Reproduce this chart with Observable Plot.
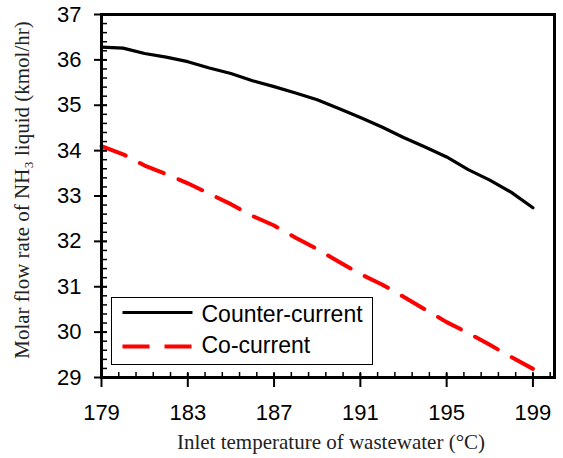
<!DOCTYPE html>
<html><head><meta charset="utf-8">
<script src="https://cdn.jsdelivr.net/npm/d3@7"></script>
<script src="https://cdn.jsdelivr.net/npm/@observablehq/plot@0.6"></script>
<style>
body{margin:0;background:#fff;}
#wrap{position:relative;width:563px;height:458px;}
#legend{position:absolute;left:111px;top:297px;width:260px;height:66px;border:1.5px solid #000;background:#fff;}
#legend svg{display:block;}
</style></head><body>
<div id="wrap"><div id="chart"></div><div id="legend"></div></div>
<script>
const temperature = [179,180,181,182,183,184,185,186,187,188,189,190,191,192,193,194,195,196,197,198,199];
const counterCurrent = [36.28,36.26,36.14,36.06,35.96,35.82,35.70,35.54,35.41,35.27,35.12,34.93,34.73,34.52,34.29,34.08,33.86,33.58,33.35,33.08,32.74];
const coCurrent = [34.10,33.92,33.67,33.48,33.28,33.05,32.82,32.56,32.35,32.08,31.83,31.55,31.28,31.05,30.78,30.50,30.22,29.98,29.72,29.45,29.19];
const seriesNames = ["Counter-current","Co-current"];
const xTicks = [179,183,187,191,195,199];
const yTicks = [29,30,31,32,33,34,35,36,37];
const xMinor = d3.range(0, 27).map(k => 179 + 0.8 * k);
const yMinor = d3.range(0, 41).map(k => 29 + 0.2 * k);
const xLabel = "Inlet temperature of wastewater (°C)";
const yLabel = "Molar flow rate of NH₃ liquid (kmol/hr)";

const W = 563, H = 458, mL = 101, mR = 9, mT = 14, mB = 81;
const fw = W - mL - mR, fh = H - mT - mB;
const sans = "'Liberation Sans', Arial, sans-serif";
const serif = "'Liberation Serif', 'Times New Roman', serif";

const chart = Plot.plot({
  width: W, height: H,
  marginLeft: mL, marginRight: mR, marginTop: mT, marginBottom: mB,
  x: {domain: [179, 200]},
  y: {domain: [29, 37]},
  style: {background: "white", fontFamily: sans, color: "black"},
  marks: [
    Plot.tickX(xMinor, {x: d => d, insetTop: fh - 5, stroke: "black", strokeWidth: 1.5}),
    Plot.tickX(xTicks, {x: d => d, insetTop: fh - 4, insetBottom: -10, stroke: "black", strokeWidth: 2}),
    Plot.tickY(yMinor, {y: d => d, insetRight: fw - 6, stroke: "black", strokeWidth: 1.5}),
    Plot.tickY(yTicks, {y: d => d, insetRight: fw - 6, insetLeft: -7, stroke: "black", strokeWidth: 2}),
    Plot.line(temperature, {x: temperature, y: counterCurrent, stroke: "black", strokeWidth: 3.2}),
    Plot.line(temperature, {x: temperature, y: coCurrent, stroke: "#ff0000", strokeWidth: 4, strokeDasharray: "26,16"}),
    Plot.frame({stroke: "black", strokeWidth: 3}),
    Plot.axisX(xTicks, {tickSize: 0, tickPadding: 27, fontSize: 22, fontFamily: sans, label: null}),
    Plot.axisY(yTicks, {tickSize: 0, tickPadding: 20, fontSize: 22, fontFamily: sans, label: null}),
    Plot.text([xLabel], {text: d => d, frameAnchor: "bottom", textAnchor: "middle", dy: 71, dx: 3, fontSize: 21, fontFamily: serif, fill: "#222"}),
    Plot.text([yLabel], {text: d => d, frameAnchor: "left", textAnchor: "middle", rotate: -90, dx: -79, dy: -6, fontSize: 21, fontFamily: serif, fill: "#222"})
  ]
});
document.getElementById("chart").appendChild(chart);

// legend
const lg = d3.select("#legend").append("svg").attr("width", 260).attr("height", 66)
  .style("font-family", sans).style("font-size", "23px");
const rows = [
  {name: seriesNames[0], stroke: "black", width: 3, dash: null, y: 14.5, ty: 23.5},
  {name: seriesNames[1], stroke: "#ff0000", width: 4, dash: "27,15", y: 48.5, ty: 54.5}
];
rows.forEach(r => {
  lg.append("line").attr("x1", 10.5).attr("x2", 80.5).attr("y1", r.y).attr("y2", r.y)
    .attr("stroke", r.stroke).attr("stroke-width", r.width).attr("stroke-dasharray", r.dash);
  lg.append("text").attr("x", 89.5).attr("y", r.ty).text(r.name);
});
</script>
</body></html>
